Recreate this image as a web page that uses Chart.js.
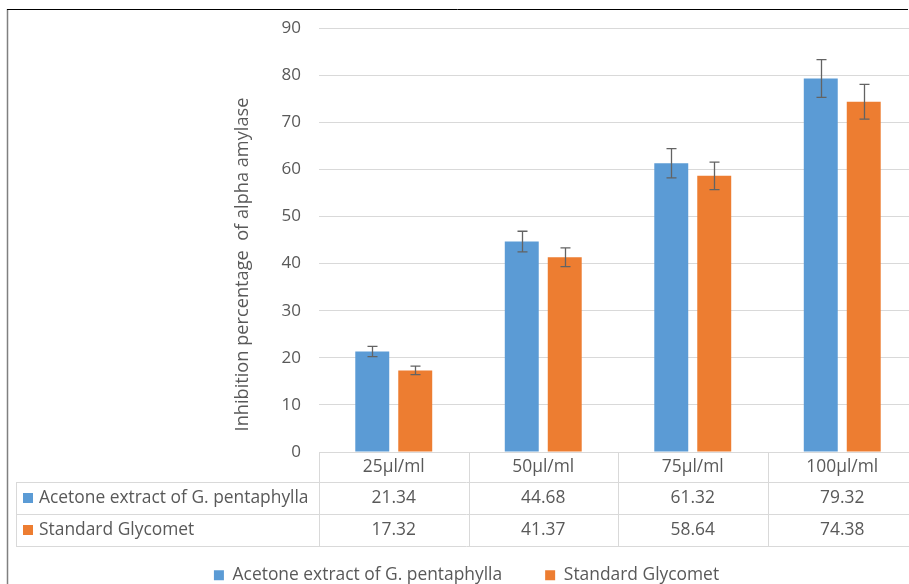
<!DOCTYPE html>
<html><head><meta charset="utf-8">
<script src="https://cdn.jsdelivr.net/npm/chart.js@4/dist/chart.umd.min.js"></script>
<style>
html,body{margin:0;padding:0;background:#fff;}
#wrap{position:relative;width:909px;height:584px;overflow:hidden;background:#fff;}
canvas{position:absolute;left:0;top:0;}
</style></head><body>
<div id="wrap"><canvas id="c" width="917" height="594"></canvas></div>
<script>
// ---- data ----
const categories = ['25µl/ml', '50µl/ml', '75µl/ml', '100µl/ml'];
const seriesNames = ['Acetone extract of G. pentaphylla', 'Standard Glycomet'];
const acetoneValues = [21.34, 44.68, 61.32, 79.32];
const glycometValues = [17.32, 41.37, 58.64, 74.38];
const acetoneErrors = [1.1, 2.2, 3.1, 4.0];
const glycometErrors = [0.9, 2.0, 2.9, 3.7];
const yMin = 0, yMax = 90, yStep = 10;
const yAxisTitle = 'Inhibition percentage  of alpha amylase';
const seriesColors = ['#5B9BD5', '#ED7D31'];

const FONT = '"Open Sans"';
const TEXT = '#595959';
const GRID = '#D9D9D9';
const TABLE_FONT = 17.4;

const errorsBySeries = [acetoneErrors, glycometErrors];

const framePlugin = {
  id: 'frame',
  afterLayout(chart) {
    const lg = chart.legend;
    if (lg) { lg.left += 8; lg.right += 8; }
  },
  beforeDraw(chart) {
    const ctx = chart.ctx;
    ctx.save();
    ctx.strokeStyle = '#808080';
    ctx.lineWidth = 1.5;
    ctx.beginPath(); ctx.moveTo(7.5, 9); ctx.lineTo(7.5, 600); ctx.stroke();
    ctx.strokeStyle = '#000';
    ctx.lineWidth = 1;
    ctx.beginPath(); ctx.moveTo(7, 9.5); ctx.lineTo(908, 9.5); ctx.stroke();
    ctx.restore();
  }
};

const errorBarPlugin = {
  id: 'errorBars',
  afterDatasetsDraw(chart) {
    const ctx = chart.ctx, ys = chart.scales.y;
    ctx.save();
    ctx.strokeStyle = '#636363';
    ctx.lineWidth = 1.3;
    chart.data.datasets.forEach((ds, di) => {
      const meta = chart.getDatasetMeta(di);
      meta.data.forEach((bar, i) => {
        const v = ds.data[i], e = errorsBySeries[di][i];
        const x = Math.round(bar.x) + 0.5;
        const y1 = ys.getPixelForValue(v + e), y2 = ys.getPixelForValue(v - e);
        ctx.beginPath();
        ctx.moveTo(x, y1); ctx.lineTo(x, y2);
        ctx.moveTo(x - 5, y1); ctx.lineTo(x + 5, y1);
        ctx.moveTo(x - 5, y2); ctx.lineTo(x + 5, y2);
        ctx.stroke();
      });
    });
    ctx.restore();
  }
};

const tablePlugin = {
  id: 'dataTable',
  afterDraw(chart) {
    const ctx = chart.ctx, xs = chart.scales.x, area = chart.chartArea;
    const n = categories.length;
    const colW = (area.right - area.left) / n;
    const top = area.bottom;
    const r1 = top + 30, r2 = r1 + 32, r3 = r2 + 32;
    const labelLeft = 16;
    ctx.save();
    ctx.strokeStyle = GRID;
    ctx.lineWidth = 1;
    const hl = (x1, x2, y) => { ctx.beginPath(); ctx.moveTo(x1, Math.round(y) + 0.5); ctx.lineTo(x2, Math.round(y) + 0.5); ctx.stroke(); };
    const vl = (x, y1, y2) => { ctx.beginPath(); ctx.moveTo(Math.round(x) + 0.5, y1); ctx.lineTo(Math.round(x) + 0.5, y2); ctx.stroke(); };
    hl(area.left, area.right, top);
    hl(labelLeft, area.right, r1);
    hl(labelLeft, area.right, r2);
    hl(labelLeft, area.right, r3);
    vl(labelLeft, r1, r3);
    for (let i = 0; i <= n; i++) vl(area.left + i * colW, top, r3);

    ctx.fillStyle = TEXT;
    ctx.font = TABLE_FONT + 'px ' + FONT;
    ctx.textAlign = 'center';
    ctx.textBaseline = 'middle';
    const rows = [acetoneValues, glycometValues];
    categories.forEach((c, i) => {
      const cx = xs.getPixelForValue(i);
      ctx.fillText(c, cx, (top + r1) / 2);
      ctx.fillText(rows[0][i].toFixed(2), cx, (r1 + r2) / 2);
      ctx.fillText(rows[1][i].toFixed(2), cx, (r2 + r3) / 2);
    });
    ctx.textAlign = 'left';
    [[r1, r2], [r2, r3]].forEach(([a, b], k) => {
      const cy = (a + b) / 2;
      ctx.fillStyle = seriesColors[k];
      ctx.fillRect(23, cy - 5, 10, 10);
      ctx.fillStyle = TEXT;
      ctx.fillText(seriesNames[k], 39, cy);
    });
    // y axis title
    ctx.save();
    ctx.translate(243, 264.5);
    ctx.rotate(-Math.PI / 2);
    ctx.textAlign = 'center';
    ctx.font = '18.2px ' + FONT;
    ctx.fillStyle = TEXT;
    ctx.fillText(yAxisTitle, 0, 0);
    ctx.restore();
    ctx.restore();
  }
};

new Chart(document.getElementById('c'), {
  type: 'bar',
  data: {
    labels: categories,
    datasets: [
      { label: seriesNames[0], data: acetoneValues, backgroundColor: seriesColors[0] },
      { label: seriesNames[1], data: glycometValues, backgroundColor: seriesColors[1] }
    ]
  },
  options: {
    responsive: false,
    animation: false,
    devicePixelRatio: 1,
    layout: { padding: { top: 27, left: 0, right: 0, bottom: 0 } },
    datasets: { bar: { categoryPercentage: 0.575, barPercentage: 0.79 } },
    plugins: {
      legend: {
        position: 'bottom',
        labels: { boxWidth: 10, boxHeight: 10, padding: 43, color: TEXT, font: { family: FONT, size: TABLE_FONT } }
      },
      tooltip: { enabled: false }
    },
    scales: {
      x: {
        ticks: { display: false },
        grid: { display: false },
        border: { display: false },
        afterFit(s) { s.height = 71.6; }
      },
      y: {
        min: yMin, max: yMax,
        ticks: { stepSize: yStep, padding: 18, color: TEXT, font: { family: FONT, size: 17 } },
        grid: { color: GRID, drawTicks: false, lineWidth: 1 },
        border: { display: false },
        afterFit(s) { s.width = 319; }
      }
    }
  },
  plugins: [framePlugin, errorBarPlugin, tablePlugin]
});
</script>
</body></html>
